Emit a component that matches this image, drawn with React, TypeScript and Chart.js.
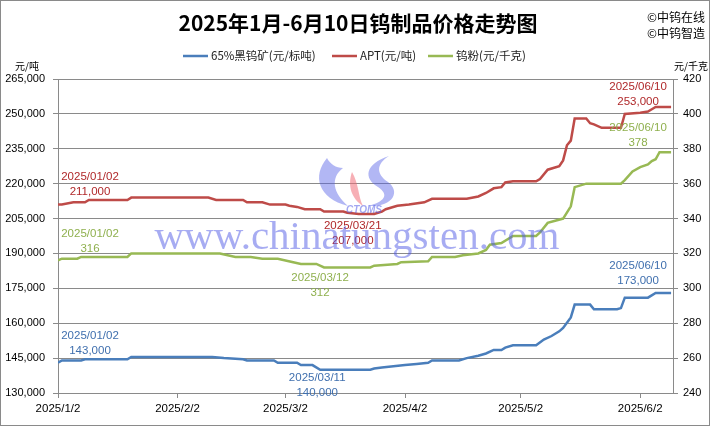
import React, { useEffect, useRef } from "react";
import { Chart, registerables } from "chart.js";

Chart.register(...registerables);

// ---------- data ----------
const TITLE = "2025年1月-6月10日钨制品价格走势图";
const seriesNames = ["65%黑钨矿(元/标吨)", "APT(元/吨)", "钨粉(元/千克)"];
const seriesColors = ["#4A7EBB", "#BE4B48", "#98B954"];
const labelColors = ["#3F6FAE", "#B0282A", "#8FB04E"];

const xTickDates = ["01-02", "02-02", "03-02", "04-02", "05-02", "06-02"];
const xTickLabels = ["2025/1/2", "2025/2/2", "2025/3/2", "2025/4/2", "2025/5/2", "2025/6/2"];

const leftMin = 130000;
const leftMax = 265000;
const leftStep = 15000;
const rightMin = 240;
const rightMax = 420;
const rightStep = 20;

// 65% wolframite concentrate (yuan / standard ton)
const oreDates = ["01-02", "01-03", "01-08", "01-09", "01-20", "01-21", "02-11", "02-14", "02-19", "02-20", "02-27", "02-28", "03-05", "03-06", "03-09", "03-11", "03-24", "03-25", "03-27", "03-30", "04-02", "04-05", "04-08", "04-09", "04-16", "04-18", "04-21", "04-23", "04-25", "04-27", "04-28", "04-30", "05-06", "05-08", "05-10", "05-12", "05-13", "05-15", "05-16", "05-20", "05-21", "05-27", "05-28", "05-29", "06-04", "06-06", "06-10"];
const oreValues = [143000, 144000, 144000, 144500, 144500, 145500, 145500, 145000, 144500, 144000, 144000, 143000, 143000, 142000, 142000, 140000, 140000, 140500, 141000, 141500, 142000, 142500, 143000, 144000, 144000, 145000, 146000, 147000, 148500, 148500, 149500, 150500, 150500, 153000, 154500, 156500, 158000, 162500, 168000, 168000, 166000, 166000, 166500, 171000, 171000, 173000, 173000];

// APT (yuan / ton)
const aptDates = ["01-02", "01-03", "01-06", "01-09", "01-10", "01-20", "01-21", "02-10", "02-12", "02-19", "02-20", "02-24", "02-26", "03-02", "03-03", "03-05", "03-07", "03-11", "03-12", "03-17", "03-18", "03-21", "03-25", "03-27", "03-28", "03-31", "04-03", "04-07", "04-09", "04-18", "04-21", "04-23", "04-25", "04-27", "04-28", "04-30", "05-06", "05-07", "05-09", "05-12", "05-13", "05-14", "05-15", "05-16", "05-19", "05-20", "05-21", "05-23", "05-28", "05-29", "06-02", "06-04", "06-05", "06-06", "06-10"];
const aptValues = [211000, 211000, 212000, 212000, 213000, 213000, 214000, 214000, 213000, 213000, 212000, 212000, 211000, 211000, 210500, 210000, 209000, 209000, 208000, 208000, 207500, 207000, 207000, 208000, 209000, 210500, 211000, 212000, 213500, 213500, 214500, 216000, 218000, 218500, 220500, 221000, 221000, 222000, 226000, 227500, 230000, 236500, 238500, 248000, 248000, 246000, 245500, 244000, 244000, 250000, 250500, 251000, 252000, 253000, 253000];

// Tungsten powder (yuan / kg)
const powderDates = ["01-02", "01-03", "01-07", "01-08", "01-20", "01-21", "02-13", "02-17", "02-21", "02-24", "02-28", "03-04", "03-06", "03-10", "03-12", "03-24", "03-25", "03-31", "04-01", "04-08", "04-09", "04-15", "04-17", "04-21", "04-23", "04-24", "04-27", "04-30", "05-06", "05-07", "05-09", "05-13", "05-15", "05-16", "05-19", "05-28", "05-29", "05-31", "06-02", "06-04", "06-05", "06-06", "06-07", "06-10"];
const powderValues = [316, 317, 317, 318, 318, 320, 320, 318, 318, 317, 317, 315, 314, 314, 312, 312, 313, 314, 315, 315.5, 318, 318, 319, 320, 322, 325, 326, 330, 330, 332, 337.5, 340, 347, 358, 360, 360, 362, 367, 369.5, 371, 373, 374, 378, 378];

// labelled points: [series index, date]
const labelSeries = [1, 2, 0, 1, 2, 0, 1, 2, 0];
const labelDates = ["01-02", "01-02", "01-02", "03-21", "03-12", "03-11", "06-10", "06-10", "06-10"];

// ---------- helpers ----------
const dayIndex = (md: string) => {
  const [m, d] = md.split("-").map(Number);
  return (Date.UTC(2025, m - 1, d) - Date.UTC(2025, 0, 2)) / 86400000;
};
const toPoints = (dates: string[], values: number[]) =>
  dates.map((d, i) => ({ x: dayIndex(d), y: values[i] }));

const allDates = [oreDates, aptDates, powderDates];
const allValues = [oreValues, aptValues, powderValues];
const axisOf = ["y", "y", "y2"];

// layout-only offsets for the data labels (px)
const labelOffsets: [number, number][] = [
  [32, -28], [32, -27], [32, -27],
  [-6, 12], [-4, 10], [-3, 8],
  [-33, -20], [-33, -24], [-33, -27],
];

const LATIN = '"Liberation Sans", "Noto Sans CJK SC", sans-serif';
const CJK = '"Noto Sans CJK SC", "Liberation Sans", sans-serif';
const GRID = "#8a8a8a";

const decorPlugin = {
  id: "decor",
  beforeDraw(chart: any) {
    const ctx = chart.ctx;
    ctx.save();
    ctx.fillStyle = "#ffffff";
    ctx.fillRect(0, 0, chart.width, chart.height);
    ctx.restore();
  },
  afterDraw(chart: any) {
    const ctx: CanvasRenderingContext2D = chart.ctx;
    const xs = chart.scales.x;
    ctx.save();

    // data labels
    ctx.font = `11.5px ${LATIN}`;
    ctx.textAlign = "center";
    ctx.textBaseline = "middle";
    labelDates.forEach((date, k) => {
      const s = labelSeries[k];
      const idx = allDates[s].indexOf(date);
      const v = allValues[s][idx];
      const px = xs.getPixelForValue(dayIndex(date));
      const py = chart.scales[axisOf[s]].getPixelForValue(v);
      const [dx, dy] = labelOffsets[k];
      ctx.fillStyle = labelColors[s];
      ctx.fillText("2025/" + date.replace("-", "/"), px + dx, py + dy);
      ctx.fillText(v.toLocaleString("en-US"), px + dx, py + dy + 15);
    });

    // watermark logo
    ctx.fillStyle = "rgba(85,95,230,0.45)";
    ctx.beginPath();
    ctx.moveTo(327, 158);
    ctx.bezierCurveTo(312, 176, 318, 198, 348, 206);
    ctx.bezierCurveTo(333, 193, 330, 178, 343, 168);
    ctx.bezierCurveTo(336, 168, 330, 164, 327, 158);
    ctx.fill();
    ctx.fillStyle = "rgba(240,110,120,0.55)";
    ctx.beginPath();
    ctx.moveTo(352, 172);
    ctx.bezierCurveTo(347, 186, 352, 199, 363, 206);
    ctx.bezierCurveTo(358, 196, 359, 184, 352, 172);
    ctx.fill();
    ctx.fillStyle = "rgba(85,95,230,0.45)";
    ctx.beginPath();
    ctx.moveTo(389, 156);
    ctx.bezierCurveTo(365, 164, 363, 178, 378, 187);
    ctx.bezierCurveTo(390, 195, 384, 202, 368, 206);
    ctx.bezierCurveTo(393, 207, 401, 192, 388, 182);
    ctx.bezierCurveTo(376, 174, 376, 164, 389, 156);
    ctx.fill();
    ctx.font = 'italic bold 10px "Liberation Sans"';
    ctx.fillStyle = "rgba(85,95,230,0.55)";
    ctx.textAlign = "center";
    ctx.fillText("CTOMS", 364, 210);

    // watermark text
    ctx.font = '41px "Liberation Serif", serif';
    ctx.fillStyle = "rgba(80,90,230,0.5)";
    ctx.textAlign = "center";
    ctx.textBaseline = "alphabetic";
    ctx.fillText("www.chinatungsten.com", 357, 249);

    // title
    ctx.fillStyle = "#000";
    ctx.font = `bold 21px ${CJK}`;
    ctx.textAlign = "center";
    ctx.textBaseline = "middle";
    ctx.fillText(TITLE, 358, 23);

    // copyright marks
    ctx.font = `12px ${CJK}`;
    ctx.textAlign = "left";
    ctx.fillText("©中钨在线", 647, 17);
    ctx.fillText("©中钨智造", 647, 33);

    // legend
    const legendX = [183, 332, 428];
    ctx.font = `11.5px ${CJK}`;
    seriesNames.forEach((name, i) => {
      ctx.strokeStyle = seriesColors[i];
      ctx.lineWidth = 2.5;
      ctx.beginPath();
      ctx.moveTo(legendX[i], 56);
      ctx.lineTo(legendX[i] + 25, 56);
      ctx.stroke();
      ctx.fillStyle = "#222";
      ctx.fillText(name, legendX[i] + 28, 56);
    });

    // unit labels
    ctx.font = `10px ${CJK}`;
    ctx.textAlign = "center";
    ctx.fillStyle = "#000";
    ctx.fillText("元/吨", 27, 66);
    ctx.fillText("元/千克", 691, 66);

    // outer border
    ctx.strokeStyle = GRID;
    ctx.lineWidth = 1;
    ctx.strokeRect(0.5, 0.5, chart.width - 1, chart.height - 1);
    ctx.restore();
  },
};

export default function App() {
  const ref = useRef<HTMLCanvasElement | null>(null);

  useEffect(() => {
    if (!ref.current) return;
    const makeDs = (i: number) => ({
      label: seriesNames[i],
      data: toPoints(allDates[i], allValues[i]),
      borderColor: seriesColors[i],
      backgroundColor: seriesColors[i],
      borderWidth: 2.5,
      pointRadius: 0,
      tension: 0,
      fill: false,
      yAxisID: axisOf[i],
    });
    const chart = new Chart(ref.current, {
      type: "line",
      data: { datasets: [makeDs(0), makeDs(1), makeDs(2)] },
      options: {
        animation: false,
        responsive: false,
        devicePixelRatio: 1,
        layout: { padding: { top: 79, left: 0, right: 0, bottom: 0 } },
        plugins: {
          legend: { display: false },
          tooltip: { enabled: false },
          title: { display: false },
        },
        scales: {
          x: {
            type: "linear",
            min: 0,
            max: dayIndex("06-10") + 0.5,
            afterBuildTicks: (s: any) => {
              s.ticks = xTickDates.map((d) => ({ value: dayIndex(d) }));
            },
            afterFit: (s: any) => {
              s.height = 33;
            },
            ticks: {
              autoSkip: false,
              maxRotation: 0,
              padding: 4,
              color: "#000",
              font: { family: LATIN, size: 11.5 },
              callback: (_v: any, i: number) => xTickLabels[i],
            },
            grid: { drawOnChartArea: false, drawTicks: true, tickLength: 5, color: GRID },
            border: { display: true, color: GRID, width: 1 },
          },
          y: {
            type: "linear",
            position: "left",
            min: leftMin,
            max: leftMax,
            afterFit: (s: any) => {
              s.width = 58;
            },
            ticks: {
              stepSize: leftStep,
              padding: 8,
              color: "#000",
              font: { family: LATIN, size: 11 },
              callback: (v: any) => Number(v).toLocaleString("en-US"),
            },
            grid: { color: GRID, tickLength: 5, lineWidth: 1 },
            border: { display: true, color: GRID, width: 1 },
          },
          y2: {
            type: "linear",
            position: "right",
            min: rightMin,
            max: rightMax,
            afterFit: (s: any) => {
              s.width = 37;
            },
            ticks: {
              stepSize: rightStep,
              padding: 5,
              color: "#000",
              font: { family: LATIN, size: 11 },
            },
            grid: { drawOnChartArea: false, tickLength: 5, color: GRID },
            border: { display: true, color: GRID, width: 1 },
          },
        },
      },
      plugins: [decorPlugin],
    } as any);
    return () => chart.destroy();
  }, []);

  return (
    <div style={{ position: "absolute", left: 0, top: 0, width: 710, height: 426 }}>
      <canvas ref={ref} width={710} height={426} style={{ display: "block", width: 710, height: 426 }} />
    </div>
  );
}
